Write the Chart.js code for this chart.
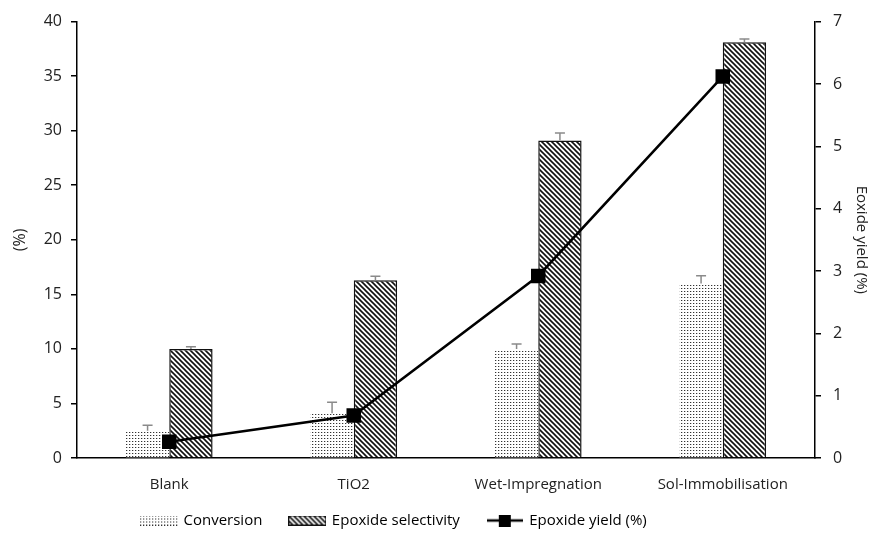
<!DOCTYPE html>
<html>
<head>
<meta charset="utf-8">
<script src="https://cdn.jsdelivr.net/npm/chart.js@4/dist/chart.umd.min.js"></script>
<style>
  body { margin: 0; background: #fff; }
  #wrap { width: 874px; height: 538px; }
</style>
</head>
<body>
<div id="wrap"><canvas id="grafica" width="874" height="538"></canvas></div>
<script>
const categorias = ['Blank', 'TiO2', 'Wet-Impregnation', 'Sol-Immobilisation'];
const conversion = [2.5, 4.1, 10.0, 16.0];
const conversionErr = [0.5, 1.0, 0.45, 0.7];
const selectividad = [10.0, 16.3, 29.1, 38.1];
const selectividadErr = [0.2, 0.35, 0.7, 0.3];
const rendimiento = [0.26, 0.68, 2.92, 6.12];
const nombresLeyenda = ['Conversion', 'Epoxide selectivity', 'Epoxide yield (%)'];

// patrones de relleno
function patronPuntos() {
  const c = document.createElement('canvas');
  c.width = 3; c.height = 3;
  const g = c.getContext('2d');
  g.fillStyle = '#fff';
  g.fillRect(0, 0, 3, 3);
  g.fillStyle = '#c8c8c8';
  g.fillRect(1, 0, 1, 1);
  g.fillStyle = '#333';
  g.fillRect(0, 0, 1, 1);
  return c;
}
function patronRayas() {
  const c = document.createElement('canvas');
  c.width = 5; c.height = 5;
  const g = c.getContext('2d');
  g.fillStyle = '#fff';
  g.fillRect(0, 0, 5, 5);
  g.strokeStyle = '#111';
  g.lineWidth = 1.6;
  g.beginPath();
  g.moveTo(-1, -1); g.lineTo(6, 6);
  g.moveTo(-1, 4); g.lineTo(1, 6);
  g.moveTo(4, -1); g.lineTo(6, 1);
  g.stroke();
  return c;
}

const tmp = document.createElement('canvas').getContext('2d');
const rellenoPuntos = tmp.createPattern(patronPuntos(), 'repeat');
const rellenoRayas = tmp.createPattern(patronRayas(), 'repeat');

function iconoCaja(patron, borde) {
  const c = document.createElement('canvas');
  c.width = 38; c.height = 10;
  const g = c.getContext('2d');
  g.fillStyle = g.createPattern(patron, 'repeat');
  g.fillRect(0, 0, 38, 10);
  if (borde) {
    g.strokeStyle = '#111';
    g.lineWidth = 1;
    g.strokeRect(0.5, 0.5, 37, 9);
  }
  return c;
}
function iconoLinea() {
  const c = document.createElement('canvas');
  c.width = 36; c.height = 12;
  const g = c.getContext('2d');
  g.strokeStyle = '#000';
  g.lineWidth = 2.5;
  g.beginPath();
  g.moveTo(0, 6); g.lineTo(36, 6);
  g.stroke();
  g.fillStyle = '#000';
  g.fillRect(12, 0, 12, 12);
  return c;
}
const iconos = [iconoCaja(patronPuntos(), false), iconoCaja(patronRayas(), true), iconoLinea()];

// barras de error (solo hacia arriba, como en la figura)
const barrasError = {
  id: 'barrasError',
  afterDatasetDraw(chart, args) {
    const ds = chart.data.datasets[args.index];
    if (!ds.errores) return;
    const meta = chart.getDatasetMeta(args.index);
    const y = chart.scales.y;
    const ctx = chart.ctx;
    ctx.save();
    ctx.strokeStyle = '#8a8a8a';
    ctx.lineWidth = 1.5;
    meta.data.forEach((bar, i) => {
      const v = ds.data[i], e = ds.errores[i];
      const yt = y.getPixelForValue(v + e);
      const yb = y.getPixelForValue(v);
      ctx.beginPath();
      ctx.moveTo(bar.x, yt); ctx.lineTo(bar.x, yb);
      ctx.moveTo(bar.x - 5, yt); ctx.lineTo(bar.x + 5, yt);
      ctx.stroke();
    });
    ctx.restore();
  }
};

// ajuste de la leyenda: altura fija y posicion
const ajusteLeyenda = {
  id: 'ajusteLeyenda',
  beforeLayout(chart) {
    const lg = chart.legend;
    if (lg && !lg._ajustada) {
      const fitOriginal = lg.fit.bind(lg);
      lg.fit = function () { fitOriginal(); this.height = 40; };
      lg._ajustada = true;
    }
  },
  afterLayout(chart) {
    const lg = chart.legend;
    lg.left = 114;
    lg.top = 485;
    lg.bottom = 538;
    lg.height = 53;
  }
};

const fuente = "'Open Sans', 'Noto Sans', sans-serif";
Chart.defaults.font.family = fuente;
Chart.defaults.color = '#222';

new Chart(document.getElementById('grafica').getContext('2d'), {
  type: 'bar',
  data: {
    labels: categorias,
    datasets: [
      {
        type: 'line',
        label: 'Epoxide yield (%)',
        data: rendimiento,
        yAxisID: 'y1',
        borderColor: '#000',
        backgroundColor: '#000',
        borderWidth: 2.5,
        pointStyle: 'rect',
        pointRadius: 8.5,
        pointHoverRadius: 8.5,
        tension: 0,
        order: 0
      },
      {
        label: 'Conversion',
        data: conversion,
        errores: conversionErr,
        backgroundColor: rellenoPuntos,
        borderWidth: 0,
        categoryPercentage: 0.47,
        barPercentage: 1.0,
        order: 1
      },
      {
        label: 'Epoxide selectivity',
        data: selectividad,
        errores: selectividadErr,
        backgroundColor: rellenoRayas,
        borderColor: '#111',
        borderWidth: 1.5,
        categoryPercentage: 0.47,
        barPercentage: 1.0,
        order: 1
      }
    ]
  },
  options: {
    responsive: false,
    animation: false,
    layout: { padding: { top: 20, left: 0, right: 0, bottom: 0 } },
    plugins: {
      tooltip: { enabled: false },
      legend: {
        position: 'bottom',
        align: 'start',
        labels: {
          usePointStyle: true,
          pointStyleWidth: 34,
          boxHeight: 12,
          padding: 28,
          font: { size: 15 },
          color: '#222',
          generateLabels(chart) {
            return nombresLeyenda.map((t, i) => ({
              text: t,
              pointStyle: iconos[i],
              fillStyle: '#000',
              strokeStyle: '#000',
              lineWidth: 0,
              hidden: false,
              datasetIndex: i
            }));
          }
        }
      }
    },
    scales: {
      x: {
        grid: { display: false, drawTicks: false },
        border: { display: true, color: '#000', width: 1.5 },
        ticks: { padding: 18, font: { size: 15 }, color: '#222' },
        afterFit(s) { s.height = 40; }
      },
      y: {
        position: 'left',
        min: 0,
        max: 40,
        ticks: { stepSize: 5, padding: 9, font: { size: 16 }, color: '#222' },
        grid: { display: true, drawOnChartArea: false, tickLength: 6, color: '#000', lineWidth: 1.5 },
        border: { display: true, color: '#000', width: 1.5 },
        title: { display: true, text: '(%)', font: { size: 16 }, color: '#222', padding: { top: 11, bottom: 4 } },
        afterFit(s) { s.width = 77; }
      },
      y1: {
        position: 'right',
        min: 0,
        max: 7,
        ticks: { stepSize: 1, padding: 12, font: { size: 16 }, color: '#222' },
        grid: { display: true, drawOnChartArea: false, tickLength: 6, color: '#000', lineWidth: 1.5 },
        border: { display: true, color: '#000', width: 1.5 },
        title: { display: true, text: 'Eoxide yield (%)', font: { size: 15 }, color: '#222', padding: { top: 4, bottom: 6 } },
        afterFit(s) { s.width = 59; }
      }
    }
  },
  plugins: [barrasError, ajusteLeyenda]
});
</script>
</body>
</html>
